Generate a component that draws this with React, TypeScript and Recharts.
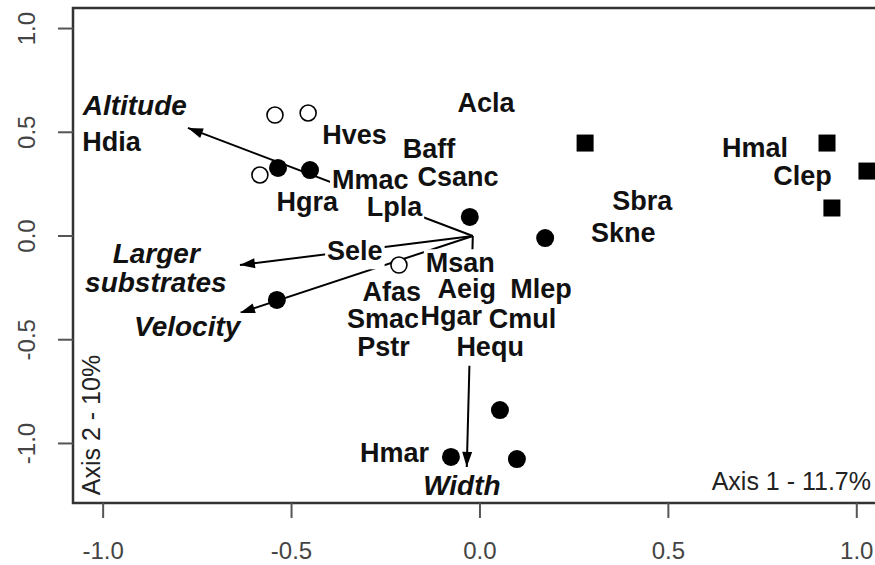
import React from 'react';
import { ScatterChart, Scatter, XAxis, YAxis, ReferenceArea } from 'recharts';

const FONT = '"Liberation Sans", Arial, Helvetica, sans-serif';

// axis ranges and ticks
const X_DOMAIN = [-1.08, 1.12];
const Y_DOMAIN = [-1.287, 1.099];
const xTicks = [-1, -0.5, 0, 0.5, 1];
const yTicks = [-1, -0.5, 0, 0.5, 1];

// site scores (three groups)
const openSites = [
    [-0.544, 0.583], [-0.456, 0.593], [-0.584, 0.294], [-0.215, -0.14],
];
const filledSites = [
    [-0.536, 0.328], [-0.451, 0.318], [-0.027, 0.092], [0.173, -0.01],
    [-0.539, -0.308], [0.053, -0.839], [-0.077, -1.065], [0.098, -1.075],
];
const squareSites = [
    [0.279, 0.448], [0.921, 0.448], [1.027, 0.313], [0.934, 0.135],
];

// species scores
const speciesNames = ['Hdia', 'Hves', 'Acla', 'Baff', 'Mmac', 'Csanc', 'Hgra', 'Lpla', 'Sele', 'Msan', 'Afas', 'Aeig', 'Mlep', 'Smac', 'Hgar', 'Cmul', 'Pstr', 'Hequ', 'Sbra', 'Skne', 'Hmal', 'Clep', 'Hmar'];
const speciesX = [-0.978, -0.333, 0.016, -0.135, -0.291, -0.058, -0.458, -0.227, -0.332, -0.052, -0.234, -0.035, 0.162, -0.257, -0.076, 0.113, -0.256, 0.027, 0.431, 0.38, 0.73, 0.856, -0.227];
const speciesY = [0.451, 0.487, 0.641, 0.419, 0.272, 0.282, 0.166, 0.142, -0.072, -0.13, -0.27, -0.255, -0.255, -0.4, -0.386, -0.4, -0.537, -0.537, 0.171, 0.014, 0.422, 0.289, -1.044];

// environmental vectors
const arrowOrigin = { x: -0.019, y: 0 };
const envNames = ['Altitude', 'Larger substrates', 'Velocity', 'Width'];
const envTipX = [-0.775, -0.637, -0.637, -0.035];
const envTipY = [0.521, -0.14, -0.371, -1.113];
const envLabelText = ['Altitude', 'Larger', 'substrates', 'Velocity', 'Width'];
const envLabelX = [-0.916, -0.859, -0.86, -0.777, -0.048];
const envLabelY = [0.627, -0.082, -0.224, -0.434, -1.205];

const toPts = (arr: number[][]) => arr.map(([x, y]) => ({ x, y }));
const speciesData = speciesNames.map((name, i) => ({ name, x: speciesX[i], y: speciesY[i] }));
const envLabelData = envLabelText.map((name, i) => ({ name, x: envLabelX[i], y: envLabelY[i] }));
const tipData = envNames.map((name, i) => ({ name, x: envTipX[i], y: envTipY[i] }));

const CHART_W = 902;
const CHART_H = 565;
const LEFT = 73;
const TOP = 8;
const XAXIS_H = 62;
const PLOT_W = CHART_W - LEFT;
const PLOT_H = CHART_H - TOP - XAXIS_H;
const KX = PLOT_W / (X_DOMAIN[1] - X_DOMAIN[0]);
const KY = PLOT_H / (Y_DOMAIN[1] - Y_DOMAIN[0]);

// rough Arial bold advance widths, em
const CW: Record<string, number> = {
    A: .722, C: .722, H: .722, L: .611, M: .833, P: .667, S: .667, V: .667, W: .944,
    a: .556, b: .611, c: .556, d: .611, e: .556, f: .333, g: .611, i: .278, k: .556, l: .278,
    m: .889, n: .611, o: .611, p: .611, q: .611, r: .389, s: .556, t: .333, u: .611, v: .556, y: .556,
};
const textW = (s: string, fs: number) => s.split('').reduce((w, c) => w + (CW[c] ?? 0.6), 0) * fs;

// label with a white box behind it, hiding the arrow lines like the original
const makeLabel = (fs: number, italic: boolean, below: number) => (props: any) => {
    const { cx, cy, payload } = props;
    const w = textW(payload.name, fs);
    const top = cy - 0.36 * fs - 4;
    return (
        <g>
            <rect x={cx - w / 2 - 2} y={top} width={w + 4} height={cy + below * fs - top} fill="#fff" />
            <text x={cx} y={cy} textAnchor="middle" dominantBaseline="central" fontSize={fs}
                fontWeight="bold" fontStyle={italic ? 'italic' : 'normal'} fontFamily={FONT} fill="#111">
                {payload.name}
            </text>
        </g>
    );
};
const SpeciesLabel = makeLabel(27, false, 0.68);
const EnvLabel = makeLabel(28, true, 0.45);

const ArrowHead = (props: any) => {
    const { cx, cy, payload } = props;
    const dx = (payload.x - arrowOrigin.x) * KX;
    const dy = -(payload.y - arrowOrigin.y) * KY;
    const ang = (Math.atan2(dy, dx) * 180) / Math.PI;
    return (
        <polygon points="0,0 -15,-5 -15,5" fill="#000" transform={`translate(${cx} ${cy}) rotate(${ang})`} />
    );
};

const OpenDot = (p: any) => <circle cx={p.cx} cy={p.cy} r={8} fill="#fff" stroke="#000" strokeWidth={1.6} />;
const FilledDot = (p: any) => <circle cx={p.cx} cy={p.cy} r={9} fill="#000" />;
const SquareDot = (p: any) => <rect x={p.cx - 8.5} y={p.cy - 8.5} width={17} height={17} fill="#000" />;
const Nothing = () => <g />;

const YTick = (props: any) => {
    const { x, y, payload } = props;
    return (
        <text x={x} y={y} transform={`rotate(-90 ${x} ${y})`} textAnchor="middle" fontSize={24}
            fill="#444" fontFamily={FONT}>
            {payload.value.toFixed(1)}
        </text>
    );
};

export default function App() {
    return (
        <div style={{ position: 'absolute', left: 0, top: 0, width: 875, height: 565, overflow: 'hidden', background: '#fff' }}>
            <ScatterChart width={CHART_W} height={CHART_H} margin={{ top: TOP, right: 0, bottom: 0, left: 0 }}>
                <XAxis type="number" dataKey="x" domain={X_DOMAIN} ticks={xTicks} allowDataOverflow
                    height={XAXIS_H} axisLine={false} tickSize={15} tickMargin={24}
                    tickLine={{ stroke: '#555', strokeWidth: 2 }}
                    tick={{ fontSize: 24, fill: '#444', fontFamily: FONT }}
                    tickFormatter={(v: number) => v.toFixed(1)} />
                <YAxis type="number" dataKey="y" domain={Y_DOMAIN} ticks={yTicks} allowDataOverflow
                    width={LEFT} axisLine={false} tickSize={15} tickMargin={23}
                    tickLine={{ stroke: '#555', strokeWidth: 2 }} tick={<YTick />} />

                {envNames.map((name, i) => (
                    <Scatter key={name} data={[arrowOrigin, tipData[i]]} line={{ stroke: '#000', strokeWidth: 2 }}
                        shape={<Nothing />} isAnimationActive={false} />
                ))}

                <Scatter data={speciesData} shape={SpeciesLabel} isAnimationActive={false} />
                <Scatter data={envLabelData} shape={EnvLabel} isAnimationActive={false} />
                <Scatter data={tipData} shape={ArrowHead} isAnimationActive={false} />

                <Scatter data={toPts(openSites)} shape={OpenDot} isAnimationActive={false} />
                <Scatter data={toPts(filledSites)} shape={FilledDot} isAnimationActive={false} />
                <Scatter data={toPts(squareSites)} shape={SquareDot} isAnimationActive={false} />

                <ReferenceArea x1={X_DOMAIN[0]} x2={X_DOMAIN[1]} y1={Y_DOMAIN[0]} y2={Y_DOMAIN[1]}
                    fill="none" fillOpacity={0} stroke="#333" strokeWidth={2.5} strokeOpacity={1} ifOverflow="visible" />
            </ScatterChart>
            <div style={{ position: 'absolute', right: 4, top: 469, fontFamily: FONT, fontSize: 25, lineHeight: 1, color: '#222', whiteSpace: 'nowrap' }}>
                Axis 1 - 11.7%
            </div>
            <div style={{ position: 'absolute', left: 91, top: 425, transform: 'translate(-50%, -50%) rotate(-90deg)', fontFamily: FONT, fontSize: 25, lineHeight: 1, color: '#222', whiteSpace: 'nowrap' }}>
                Axis 2 - 10%
            </div>
        </div>
    );
}
